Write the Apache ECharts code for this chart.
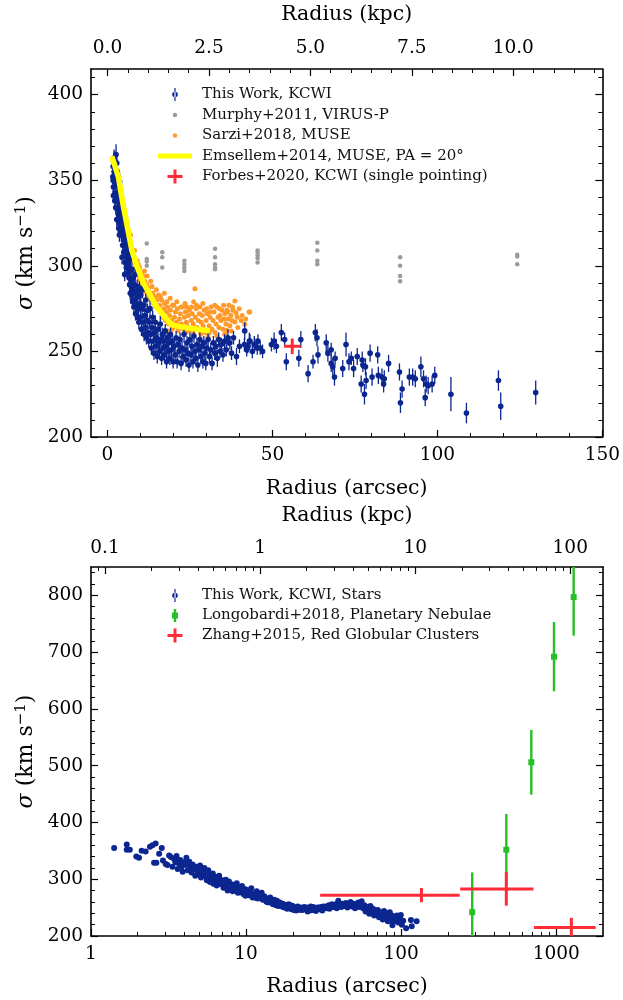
<!DOCTYPE html>
<html>
<head>
<meta charset="utf-8">
<script src="https://cdn.jsdelivr.net/npm/echarts@6.0.0/dist/echarts.min.js"></script>
<style>
  html, body { margin: 0; padding: 0; background: #fff; }
  #main { width: 623px; height: 1000px; }
</style>
</head>
<body>
<div id="main"></div>
<script>
// ---- data (top panel: linear radius) ----
// [radius arcsec, sigma, error]
const kcwiTop = [
  [1.6,352,4],[1.7,358,4],[1.8,346,4],[1.9,361,5],[2.0,355,4],[2.1,349,4],[2.2,362,5],[2.3,343,4],[2.4,357,4],[2.5,351,4],
  [2.6,365,6],[2.7,340,4],[2.8,360,5],[2.9,347,4],[2.2,338,4],[1.8,341,4],[2.5,334,4],[3.0,355,5],[2.0,363,5],[2.4,360,4],[1.7,350,4],
  [3.1,338,4],[3.2,346,4],[3.3,330,4],[3.4,342,4],[3.5,325,4],[3.6,337,4],[3.7,349,5],[3.8,331,4],[3.9,320,4],[4.0,335,4],
  [4.1,327,4],[4.2,341,4],[4.3,318,4],[4.4,330,4],[3.3,352,5],[3.0,333,4],[2.8,327,4],[3.6,318,4],[4.5,322,4],[4.6,312,4],[3.4,322,4],[3.9,344,4],
  [4.7,326,4],[4.8,315,4],[4.9,331,5],[5.0,308,4],[5.1,320,4],[5.2,312,4],[5.3,302,4],[5.4,317,4],[5.5,309,4],[5.6,323,5],
  [5.7,299,4],[5.8,311,4],[5.9,305,4],[6.0,316,4],[6.1,296,4],[6.2,307,4],[6.3,300,4],[6.4,312,5],[6.5,293,4],[5.2,295,4],[4.4,305,4],[5.0,325,4],[5.8,318,4],
  [6.6,303,4],[6.7,289,4],[6.8,297,4],[6.9,284,4],[7.0,305,5],[7.1,292,4],[7.3,283,4],[7.4,298,4],[7.5,287,4],[7.6,279,4],
  [7.8,293,4],[7.9,284,4],[8.0,276,4],[8.1,289,4],[8.3,280,4],[8.4,295,5],[8.5,272,4],[8.7,285,4],[8.8,277,4],[9.0,288,4],[9.1,270,4],
  [9.2,282,4],[9.4,275,4],[9.5,267,4],[9.7,287,4],[9.8,278,4],[10.0,270,4],[10.1,283,4],[10.3,263,4],[10.5,275,4],[10.6,286,5],
  [10.8,267,4],[11.0,277,4],[11.1,260,4],[11.3,271,4],[11.5,264,4],[11.6,280,4],[11.8,258,4],[12.0,268,4],[12.1,274,4],[12.3,261,4],
  [12.5,256,4],[12.7,267,4],[12.9,275,5],[13.1,260,4],[13.3,252,4],[13.5,264,4],[13.7,270,4],[13.9,256,4],[14.1,249,4],[14.3,261,4],
  [14.5,267,4],[14.7,253,4],[14.9,258,4],[15.1,247,4],[15.3,263,4],[15.5,255,4],[15.8,250,4],[16.0,266,5],[16.2,257,4],[16.4,246,4],
  [16.6,260,4],[16.8,252,4],[17.0,256,4],[17.3,248,4],[17.5,262,4],[17.7,253,4],[17.9,244,4],[18.1,258,4],[18.4,250,4],[18.6,255,4],
  [18.9,246,4],[19.1,260,4],[19.4,251,4],[19.6,256,4],[19.9,244,4],
  [20.2,253,4],[20.5,248,4],[20.8,258,4],[21.1,244,4],[21.4,254,4],[21.7,250,4],[22.0,257,4],[22.3,243,4],[22.6,252,4],[22.9,247,4],
  [23.2,260,5],[23.5,251,4],[23.8,245,4],[24.1,255,4],[24.4,249,4],[24.7,242,4],[25.0,257,4],[25.3,248,4],[25.6,253,4],[25.9,244,4],
  [26.2,259,4],[26.5,250,4],[26.8,246,4],[27.1,254,4],[27.4,242,4],[27.7,251,4],[28.0,257,4],[28.3,247,4],[28.6,253,4],[28.9,244,4],
  [29.2,255,4],[29.5,249,4],[29.8,243,4],[30.1,252,4],[30.5,257,4],[30.9,247,4],[31.3,251,4],[31.7,243,4],[32.1,255,4],[32.5,249,4],
  [32.9,253,4],[33.3,246,5],[33.7,257,4],[34.1,250,4],[34.5,254,4],[35.0,248,4],[35.5,256,4],[36.0,251,4],[36.5,258,5],[37.1,255,4],
  [37.6,249,4],[38.2,258,4],[39.1,247,5],[40.0,253,4],[41.6,262,5],[42.5,253,4],[43.2,256,4],[43.9,250,4],[44.5,254,5],[45.6,256,4],[46.3,252,4],
  [41.5,254,4],[42.2,251,4],[43.0,256,5],[44.6,254,4],[45.4,252,4],[47.0,250,4],
  [49.7,254,4],[50.5,256,5],[51.2,253,4],[52.7,261,5],[53.7,257,4],[54.2,244,5],[58.6,257,5],[58.0,246,5],[60.8,237,5],[62.3,244,4],
  [63.0,261,5],[63.5,258,5],[63.8,248,5],[66.3,255,5],[66.8,249,5],[67.8,243,5],[68.8,235,5],[67.8,251,4],[68.3,241,5],[69.0,246,4],
  [71.3,240,5],[72.3,254,7],[73.2,244,5],[73.9,246,4],[74.6,240,5],[75.7,247,5],[76.9,231,5],[77.2,245,5],[77.4,242,4],[77.9,225,6],
  [78.2,241,5],[78.4,233,5],[79.6,249,5],[80.2,235,5],[81.9,248,5],[82.1,236,5],[83.2,235,5],[83.7,231,5],[83.9,234,5],[85.2,243,5],
  [88.5,238,5],[88.8,220,6],[89.3,228,5],[91.5,235,5],[92.5,235,5],[93.3,234,5],[95.0,241,6],[95.8,234,5],[96.3,223,5],[96.6,231,5],
  [97.2,230,5],[98.4,231,5],[99.2,236,5],[104.1,225,10],[108.8,214,6],[118.5,233,6],[119.2,218,8],[129.8,226,7]
];
const murphyTop = [
  [11.9,313],[11.9,304],[11.9,302.5],[11.9,300],[16.6,308],[16.6,305],[16.6,299],
  [23.3,303],[23.3,301],[23.3,299],[23.3,297],[32.6,310],[32.6,305],[32.6,301],[32.6,299],[32.6,298],
  [45.5,309],[45.5,307.5],[45.5,306],[45.5,304.5],[45.5,302],[63.6,313.5],[63.6,309],[63.6,303],[63.6,301],
  [88.7,305],[88.7,300],[88.7,294],[88.7,291],[124.2,306.5],[124.2,305.5],[124.2,301]
];
const sarziTop = [
  [1.5,362],[2.0,358],[2.4,356],[2.8,353],[3.2,349],[3.5,347],[3.9,343],[4.2,341],[4.5,338],[4.8,336],[5.1,333],[5.3,330],
  [5.6,328],[5.9,325],[6.1,322],[6.4,320],[6.7,316],[6.9,314],[7.2,311],[7.5,309],[7.7,306],[8.0,305],[8.3,302],[8.6,300],
  [8.9,298],[9.2,296],[9.5,294],[9.8,292],[10.1,291],[7.0,318],[8.2,309],[9.0,303],[9.7,299],
  [10.4,289],[10.7,294],[11.0,287],[11.3,291],[11.6,285],[11.9,289],[12.2,283],[12.5,287],[12.8,281],[13.1,291],[13.4,280],
  [13.7,284],[14.0,278],[14.3,282],[14.6,276],[14.9,280],[15.2,275],[15.5,283],
  [15.8,277],[16.1,273],[16.4,280],[16.7,270],[17.0,275],[17.3,278],[17.6,268],[17.9,273],[18.2,276],[18.5,266],[18.8,271],
  [19.1,274],[19.4,268],[19.7,277],[20.0,264],[20.3,270],[20.6,273],[20.9,267],[21.2,275],[21.5,264],[21.8,269],[22.1,272],
  [22.4,266],[22.7,276],[23.0,263],[23.3,270],[23.6,273],[23.9,267],[24.2,265],[24.5,271],[24.8,274],[25.1,262],[25.4,268],
  [25.7,272],[26.0,266],[26.5,286.6],[26.3,263],[26.6,270],[26.9,275],[27.2,264],[27.5,268],[27.8,272],[28.1,262],[28.4,267],
  [28.7,271],[29.0,265],[29.3,274],[29.6,261],[29.9,268],[30.2,272],[30.5,258.5],[30.8,265],[31.1,270],[31.4,276],[31.7,263],
  [32.0,268],[32.3,273],[32.6,261],[32.9,266],[33.2,276],[33.5,270],[33.8,264],[34.1,271],[34.4,268],[34.7,274],[35.0,263],
  [35.3,269],[35.6,272],[35.9,266],[36.1,262.4],[36.2,274],[36.5,269],[36.8,277],[37.1,265],[37.4,271],[37.7,268],[38.0,274],
  [38.6,279.4],[38.6,267.2],[39.0,272.4],[39.3,270],[39.9,275],[40.5,268],[41.6,265.9],[42.9,273],[43.1,273],
  [16.0,282],[17.2,284],[18.0,279],[19.0,281],[20.1,277],[21.0,279],[22.3,276],[23.5,278],[24.0,276],[25.5,276],[26.1,279],
  [27.0,277],[28.0,276],[28.9,278],[30.0,275],[31.2,273],[32.5,277],[33.9,275],[35.2,277],[36.4,273],[37.9,276],[18.3,262],
  [19.6,263],[21.4,262],[23.8,261],[26.0,260],[28.3,260],[30.9,261],[33.1,259],[35.5,260],[37.5,262],[39.5,264],[40.8,271],
  [41.9,269],[12.0,294],[13.5,288],[14.8,286],[11.2,297],[10.3,296],[9.3,301]
];
const emsellemTop = [
  [1.3,364],[2.0,360],[3.3,352],[4.8,335],[6.3,320],[7.4,309],[8.9,300],[10.9,290],[12.9,283],
  [14.9,276],[17.0,271],[19.5,265.5],[22.0,264.5],[25.0,263.5],[31.0,262]
];
// [radius, sigma, radius low, radius high, sigma error]
const forbesTop = [[56, 253, 53.5, 58.5, 4.5]];

// ---- data (bottom panel: log radius) ----
// [radius arcsec, sigma]
const kcwiBottom = [
  [1.41,355],[1.70,361],[1.70,352],[1.78,352],[1.96,340],[2.04,338],[2.12,350],[2.25,349],[2.40,357],[2.49,360],[2.61,363],
  [2.55,329],[2.64,329],[2.75,345],[2.86,355],[2.91,333],[3.03,327],[3.11,325],[3.19,342],[3.27,339],[3.35,322],
  [3.42,336],[3.50,330],[3.56,341],[3.62,318],[3.70,327],[3.76,334],[3.83,322],[3.90,313],[3.97,330],[4.05,325],[4.12,338],[4.20,316],[4.28,328],
  [4.36,321],[4.45,312],[4.52,326],[4.60,318],[4.70,306],[4.78,322],[4.86,314],[4.95,309],[5.05,324],[5.12,303],[5.20,317],[5.30,311],[5.38,320],
  [5.48,305],[5.58,298],[5.66,311],[5.75,302],[5.85,295],[5.95,307],[6.05,300],[6.15,292],[6.25,305],[6.35,297],[6.46,289],[6.56,303],[6.68,294],[6.78,299],
  [6.9,291],[7.0,298],[7.15,285],[7.3,294],[7.45,288],[7.6,280],[7.75,296],[7.9,286],[8.05,291],[8.2,279],[8.35,287],[8.5,283],[8.7,293],[8.85,276],
  [9.0,285],[9.2,280],[9.4,288],[9.6,274],[9.8,283],[10.0,278],
  [10.2,281],[10.4,272],[10.6,277],[10.8,284],[11.0,268],[11.2,275],[11.5,271],[11.7,279],[11.9,266],[12.1,273],[12.4,269],[12.6,276],[12.8,264],
  [13.1,270],[13.4,262],[13.7,266],[14.0,259],[14.3,268],[14.6,261],[14.9,256],[15.2,264],[15.5,258],[15.8,262],[16.1,253],[16.5,259],[16.8,255],
  [17.2,257],[17.6,250],[18.0,254],[18.4,248],[18.8,256],[19.2,251],[19.6,247],[20.0,253],[20.5,249],[21.0,245],[21.5,252],[22.0,248],[22.5,250],
  [23.1,246],[23.7,251],[24.3,247],[24.9,243],[25.5,249],[26.1,252],[26.8,246],[27.5,248],[28.2,244],[28.9,250],[29.6,247],[30.3,251],[31.0,245],[31.7,249],
  [32.5,252],[33.3,249],[34.1,254],[34.9,250],[35.7,256],[36.6,251],[37.5,253],[38.4,249],[39.3,262],[40.2,255],[41.1,251],[42.0,257],
  [43.0,253],[44.0,258],[45.0,250],[46.0,255],[47.1,260],[48.2,252],[49.3,257],[50.4,249],[51.6,254],[52.8,259],[54.0,251],[55.6,261],
  [56.8,249],[57.9,254],[58.9,243],[60.0,251],[61.1,246],[62.2,239],[63.3,253],[64.5,244],[65.7,248],[66.9,236],[68.0,245],
  [69.3,240],[70.6,246],[71.9,233],[73.2,242],[74.6,237],[76.0,229],[77.5,244],[79.0,235],[80.5,240],[82.0,226],[83.6,238],[85.2,231],[87.0,236],[87.8,219],[89.5,228],
  [92.1,230],[94.0,236],[96.0,224],[98.0,232],[101,220],[103,227],[107.6,213.5],[115.5,228],[116.9,217],[125.7,226],
  [3.6,333],[3.9,326],[4.3,331],[4.7,319],[5.0,313],[5.4,308],[5.7,316],[6.1,310],[6.4,301],[6.7,306],[7.1,293],[7.4,299],[7.8,290],
  [8.1,284],[8.6,288],[9.1,277],[9.5,282],[9.9,271],[10.5,279],[11.1,274],[11.6,267],[12.2,270],[12.9,267],[13.6,260],[14.2,263],
  [14.8,260],[15.6,254],[16.3,257],[17.0,252],[17.8,255],[18.6,251],[19.4,254],[20.3,246],[21.2,250],[22.2,246],[23.4,249],[24.6,250],
  [25.8,245],[27.1,251],[28.5,247],[30.0,249],[31.4,252],[33.0,251],[34.5,248],[36.1,254],[37.8,256],[39.7,252],[41.6,254],[43.5,256],
  [45.5,253],[47.6,257],[49.8,255],[52.1,252],[54.6,256],[57.2,252],[59.4,248],[61.7,250],[64.0,241],[66.3,243],[69.9,243],[72.5,238],
  [75.3,241],[78.2,232],[81.2,236],[84.4,242],[86.1,227],[90.6,234],[93.0,226],[97.0,228],[99.5,237]
];
// [radius, sigma, error]
const pnBottom = [[287,242,70],[476,352,63],[690,506,57],[966,692,61],[1294,797,68]];
// [radius, sigma, radius low, radius high, sigma error]
const gcBottom = [[135,272,30,238,12.5],[476,283,240,713,29.5],[1250,215,717,1794,17]];

// ---- ticks ----
const topXTicks = [0, 50, 100, 150];
const topXMinor = [10, 20, 30, 40, 60, 70, 80, 90, 110, 120, 130, 140];
const topKpcTicks = [0, 2.5, 5, 7.5, 10];
const topKpcMinor = [0.5, 1, 1.5, 2, 3, 3.5, 4, 4.5, 5.5, 6, 6.5, 7, 8, 8.5, 9, 9.5, 10.5, 11, 11.5, 12];
const topYTicks = [200, 250, 300, 350, 400];
const topYMinor = [210, 220, 230, 240, 260, 270, 280, 290, 310, 320, 330, 340, 360, 370, 380, 390, 410];
const botXTicks = [1, 10, 100, 1000];
const botXMinor = [2, 3, 4, 5, 6, 7, 8, 9, 20, 30, 40, 50, 60, 70, 80, 90, 200, 300, 400, 500, 600, 700, 800, 900];
const botKpcTicks = [0.1, 1, 10, 100];
const botKpcMinor = [0.09, 0.2, 0.3, 0.4, 0.5, 0.6, 0.7, 0.8, 0.9, 2, 3, 4, 5, 6, 7, 8, 9, 20, 30, 40, 50, 60, 70, 80, 90];
const botYTicks = [200, 300, 400, 500, 600, 700, 800];
const botYMinor = [220, 240, 260, 280, 320, 340, 360, 380, 420, 440, 460, 480, 520, 540, 560, 580,
  620, 640, 660, 680, 720, 740, 760, 780, 820, 840];

const kpcPerArcsec = 0.0813;
const FONT = 'DejaVu Serif';
const BLUE = '#0c2690';
const GREY = '#9b9b9b';
const ORANGE = '#ff9a2a';
const YELLOW = '#ffff00';
const RED = '#ff2b36';
const GREEN = '#26bf26';

const chart = echarts.init(document.getElementById('main'));

function majorAxis(o) {
  const ax = {
    type: o.type || 'value',
    gridIndex: o.grid,
    position: o.position,
    min: o.min,
    max: o.max,
    axisLine: { show: true, onZero: false, lineStyle: { color: '#000', width: 1.6 } },
    axisTick: { show: true, inside: true, length: 7, customValues: o.ticks, lineStyle: { color: '#000', width: 1.2 } },
    axisLabel: {
      show: !!o.labels, customValues: o.ticks, margin: o.margin || 9,
      fontFamily: FONT, fontSize: 18.5, color: '#000', formatter: o.formatter || (v => String(v))
    },
    splitLine: { show: false },
    axisPointer: { show: false }
  };
  if (ax.type === 'log') ax.logBase = 10;
  if (o.name) {
    ax.name = o.name;
    ax.nameLocation = 'middle';
    ax.nameGap = o.nameGap;
    ax.nameRotate = o.nameRotate || 0;
    ax.nameTextStyle = Object.assign({ fontFamily: FONT, fontSize: 20.5, color: '#000' }, o.nameStyle || {});
  }
  return ax;
}
function minorAxis(o) {
  const ax = {
    type: o.type || 'value',
    gridIndex: o.grid,
    position: o.position,
    min: o.min,
    max: o.max,
    axisLine: { show: false, onZero: false },
    axisTick: { show: true, inside: true, length: 4, customValues: o.ticks, lineStyle: { color: '#000', width: 1 } },
    axisLabel: { show: false },
    splitLine: { show: false },
    axisPointer: { show: false }
  };
  if (ax.type === 'log') ax.logBase = 10;
  return ax;
}

const sigmaName = '{i|σ} (km s{s|−1})';
const sigmaStyle = {
  fontSize: 22,
  rich: {
    i: { fontFamily: FONT, fontSize: 22, fontStyle: 'italic', color: '#000' },
    s: { fontFamily: FONT, fontSize: 15, color: '#000', verticalAlign: 'top', padding: [0, 0, 10, 0] }
  }
};

function errorBar(color, lw, r, square) {
  return function (params, api) {
    const x = api.value(0), y = api.value(1), e = api.value(2);
    const c = api.coord([x, y]);
    const lo = api.coord([x, y - e]);
    const hi = api.coord([x, y + e]);
    const mark = square
      ? { type: 'rect', shape: { x: c[0] - r, y: c[1] - r, width: 2 * r, height: 2 * r }, style: { fill: color } }
      : { type: 'circle', shape: { cx: c[0], cy: c[1], r: r }, style: { fill: color } };
    return {
      type: 'group',
      children: [
        { type: 'line', shape: { x1: c[0], y1: lo[1], x2: c[0], y2: hi[1] }, style: { stroke: color, lineWidth: lw } },
        mark
      ]
    };
  };
}
function crossBar(color, lw) {
  return function (params, api) {
    const x = api.value(0), y = api.value(1), e = api.value(4);
    const l = api.coord([api.value(2), y]);
    const r = api.coord([api.value(3), y]);
    const t = api.coord([x, y + e]);
    const b = api.coord([x, y - e]);
    return {
      type: 'group',
      children: [
        { type: 'line', shape: { x1: l[0], y1: l[1], x2: r[0], y2: r[1] }, style: { stroke: color, lineWidth: lw } },
        { type: 'line', shape: { x1: t[0], y1: t[1], x2: b[0], y2: b[1] }, style: { stroke: color, lineWidth: lw } }
      ]
    };
  };
}

// legend icons drawn in a 34 x 14 box (tiny corner specks fix the box)
const box = 'M0,0h0.01v0.01h-0.01z M33.99,13.99h0.01v0.01h-0.01z ';
const iconErr = 'path://' + box + 'M16.4,0.5h1.2v13h-1.2z M14.2,7a2.8,2.8 0 1,0 5.6,0a2.8,2.8 0 1,0 -5.6,0z';
const iconErrGreen = 'path://' + box + 'M15.8,0.5h2.4v13h-2.4z M14,4h6v6h-6z';
const iconDot = 'path://' + box + 'M14.8,7a2.2,2.2 0 1,0 4.4,0a2.2,2.2 0 1,0 -4.4,0z';
const iconLine = 'path://' + box + 'M0,4.5h34v5h-34z';
const iconCross = 'path://' + box + 'M9.5,5.5h15v3h-15z M15.5,0h3v14h-3z';

const legendText = { fontFamily: FONT, fontSize: 15, color: '#111', padding: [0, 0, 0, 5] };

const option = {
  animation: false,
  backgroundColor: '#fff',
  grid: [
    { left: 91, top: 69, width: 512, height: 368 },
    { left: 91, top: 567, width: 512, height: 369 }
  ],
  legend: [
    {
      orient: 'vertical', left: 153, top: 82, itemWidth: 34, itemHeight: 14, itemGap: 5.5,
      selectedMode: false, textStyle: legendText,
      data: [
        { name: 'This Work, KCWI', icon: iconErr, itemStyle: { color: BLUE } },
        { name: 'Murphy+2011, VIRUS-P', icon: iconDot, itemStyle: { color: GREY } },
        { name: 'Sarzi+2018, MUSE', icon: iconDot, itemStyle: { color: ORANGE } },
        { name: 'Emsellem+2014, MUSE, PA = 20°', icon: iconLine, itemStyle: { color: YELLOW } },
        { name: 'Forbes+2020, KCWI (single pointing)', icon: iconCross, itemStyle: { color: RED } }
      ]
    },
    {
      orient: 'vertical', left: 153, top: 583, itemWidth: 34, itemHeight: 14, itemGap: 5,
      selectedMode: false, textStyle: legendText,
      data: [
        { name: 'This Work, KCWI, Stars', icon: iconErr, itemStyle: { color: BLUE } },
        { name: 'Longobardi+2018, Planetary Nebulae', icon: iconErrGreen, itemStyle: { color: GREEN } },
        { name: 'Zhang+2015, Red Globular Clusters', icon: iconCross, itemStyle: { color: RED } }
      ]
    }
  ],
  xAxis: [
    majorAxis({ grid: 0, position: 'bottom', min: -5, max: 150, ticks: topXTicks, labels: true,
      name: 'Radius (arcsec)', nameGap: 41 }),
    minorAxis({ grid: 0, position: 'bottom', min: -5, max: 150, ticks: topXMinor }),
    majorAxis({ grid: 0, position: 'top', min: -5 * kpcPerArcsec, max: 150 * kpcPerArcsec, ticks: topKpcTicks,
      labels: true, margin: 11, formatter: v => v.toFixed(1), name: 'Radius (kpc)', nameGap: 44 }),
    minorAxis({ grid: 0, position: 'top', min: -5 * kpcPerArcsec, max: 150 * kpcPerArcsec, ticks: topKpcMinor }),

    majorAxis({ grid: 1, type: 'log', position: 'bottom', min: 1, max: 2000, ticks: botXTicks, labels: true,
      formatter: v => String(Math.round(v)), name: 'Radius (arcsec)', nameGap: 40 }),
    minorAxis({ grid: 1, type: 'log', position: 'bottom', min: 1, max: 2000, ticks: botXMinor }),
    majorAxis({ grid: 1, type: 'log', position: 'top', min: kpcPerArcsec, max: 2000 * kpcPerArcsec, ticks: botKpcTicks,
      labels: true, margin: 9, formatter: v => (v < 1 ? v.toFixed(1) : String(Math.round(v))),
      name: 'Radius (kpc)', nameGap: 41 }),
    minorAxis({ grid: 1, type: 'log', position: 'top', min: kpcPerArcsec, max: 2000 * kpcPerArcsec, ticks: botKpcMinor })
  ],
  yAxis: [
    majorAxis({ grid: 0, position: 'left', min: 200, max: 415, ticks: topYTicks, labels: true, margin: 8,
      name: sigmaName, nameGap: 44, nameRotate: 90, nameStyle: sigmaStyle }),
    minorAxis({ grid: 0, position: 'left', min: 200, max: 415, ticks: topYMinor }),
    majorAxis({ grid: 0, position: 'right', min: 200, max: 415, ticks: topYTicks }),
    minorAxis({ grid: 0, position: 'right', min: 200, max: 415, ticks: topYMinor }),

    majorAxis({ grid: 1, position: 'left', min: 200, max: 850, ticks: botYTicks, labels: true, margin: 8,
      name: sigmaName, nameGap: 44, nameRotate: 90, nameStyle: sigmaStyle }),
    minorAxis({ grid: 1, position: 'left', min: 200, max: 850, ticks: botYMinor }),
    majorAxis({ grid: 1, position: 'right', min: 200, max: 850, ticks: botYTicks }),
    minorAxis({ grid: 1, position: 'right', min: 200, max: 850, ticks: botYMinor })
  ],
  series: [
    {
      name: 'Murphy+2011, VIRUS-P', type: 'scatter', xAxisIndex: 0, yAxisIndex: 0,
      data: murphyTop, symbolSize: 4.5, itemStyle: { color: GREY, opacity: 1 }, z: 1, silent: true
    },
    {
      name: 'Sarzi+2018, MUSE', type: 'scatter', xAxisIndex: 0, yAxisIndex: 0,
      data: sarziTop, symbolSize: 5, itemStyle: { color: ORANGE, opacity: 1 }, z: 2, silent: true
    },
    {
      name: 'This Work, KCWI', type: 'custom', xAxisIndex: 0, yAxisIndex: 0,
      data: kcwiTop, encode: { x: 0, y: 1 }, renderItem: errorBar(BLUE, 1.3, 2.8, false),
      itemStyle: { color: BLUE }, clip: true, z: 3, silent: true
    },
    {
      name: 'Emsellem+2014, MUSE, PA = 20°', type: 'line', xAxisIndex: 0, yAxisIndex: 0,
      data: emsellemTop, showSymbol: false, lineStyle: { color: YELLOW, width: 5.5 },
      itemStyle: { color: YELLOW }, z: 4, silent: true
    },
    {
      name: 'Forbes+2020, KCWI (single pointing)', type: 'custom', xAxisIndex: 0, yAxisIndex: 0,
      data: forbesTop, encode: { x: 0, y: 1 }, renderItem: crossBar(RED, 3),
      itemStyle: { color: RED }, clip: true, z: 5, silent: true
    },

    {
      name: 'This Work, KCWI, Stars', type: 'scatter', xAxisIndex: 4, yAxisIndex: 4,
      data: kcwiBottom, symbolSize: 6, itemStyle: { color: BLUE, opacity: 1 }, z: 3, silent: true
    },
    {
      name: 'Longobardi+2018, Planetary Nebulae', type: 'custom', xAxisIndex: 4, yAxisIndex: 4,
      data: pnBottom, encode: { x: 0, y: 1 }, renderItem: errorBar(GREEN, 2.4, 3, true),
      itemStyle: { color: GREEN }, clip: true, z: 4, silent: true
    },
    {
      name: 'Zhang+2015, Red Globular Clusters', type: 'custom', xAxisIndex: 4, yAxisIndex: 4,
      data: gcBottom, encode: { x: 0, y: 1 }, renderItem: crossBar(RED, 3),
      itemStyle: { color: RED }, clip: true, z: 5, silent: true
    }
  ]
};

chart.setOption(option);
</script>
</body>
</html>
